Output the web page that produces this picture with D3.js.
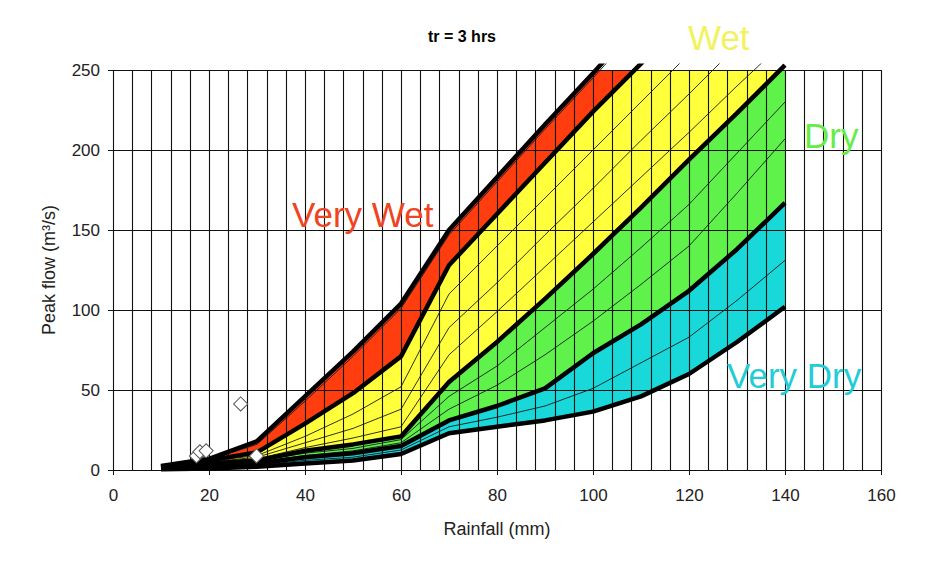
<!DOCTYPE html>
<html><head><meta charset="utf-8">
<script src="https://cdn.jsdelivr.net/npm/d3@7"></script>
<style>body{margin:0;background:#fff} svg{display:block;font-family:Arial,"Liberation Sans",sans-serif}</style>
</head><body><svg id="c" width="946" height="563"></svg>
<script>
// ---- data ----
const rainfall = [10,20,30,40,50,60,70,80,90,100,110,120,130,140];
// thick boundary curves
const veryWetTop   = [2.5,7,18,46,74,104,150,183,216,248,281,null,null,null];
const wetTop       = [2,6,11,29,48,71,128,160,192,224,254,286,null,null];
const dryTop       = [1.5,4,6,12,16,21,55,80,107,135,164,194,223,253];
const veryDryTop   = [1,3,4,8,10.5,15,31,40,51,73,91,112,138,167];
const veryDryBase  = [0.5,1,2,4,6,10,23,27,31,36.5,46,60,80,102];
// thin intermediate curves
const redThin      = [2.3,6.5,16,43,71,101,147,180,213,245,278,null,null,null];
const yellowThin1  = [1.9,5.5,9,21,35,52,110,140,170,200,230,260,null,null];
const yellowThin2  = [1.8,5,8,17,26,38,89,117,147,176,206,235,265,null];
const yellowThin3  = [1.7,4.5,7,14,20,27,72,99,127,155,183,211,240,268];
const greenThin1   = [1.4,3.8,5.5,10.5,13.5,19,46,65,89,113,139,166,198,230];
const greenThin2   = [1.2,3.5,5,9,12,17,38,53,72,93,116,140,173,207];
const cyanThin     = [0.8,2,3,6,8,12.5,27,33,40,51,67,83,106,131];
// observed events
const obsRain = [17.4,18.1,19.4,26.6,29.9];
const obsPeak = [8.8,11.4,12,41.3,8.8];
// axis ticks
const xTicks = [0,20,40,60,80,100,120,140,160];
const yTicks = [0,50,100,150,200,250];
const xGrid = d3.range(0,161,4);

const svg = d3.select("#c");
const x = d3.scaleLinear().domain([0,160]).range([113,881]);
const y = d3.scaleLinear().domain([0,250]).range([470,70]);

const defs = svg.append("defs");
defs.append("clipPath").attr("id","plot").append("rect")
  .attr("x",x(0)).attr("y",y(250)).attr("width",x(160)-x(0)).attr("height",y(0)-y(250));
defs.append("clipPath").attr("id","lines").append("rect")
  .attr("x",x(0)).attr("y",y(254)).attr("width",x(160)-x(0)).attr("height",y(0)-y(254)+10);

const pts = arr => rainfall.map((r,i)=>[r,arr[i]]).filter(d=>d[1]!==null);
const band = (upper, lower) => {
  const u = pts(upper).map(d=>[x(d[0]),y(d[1])]);
  const l = pts(lower).map(d=>[x(d[0]),y(d[1])]).reverse();
  return "M" + u.concat(l).map(p=>p.join(",")).join("L") + "Z";
};

const fills = svg.append("g").attr("clip-path","url(#plot)");
fills.append("path").attr("d",band(veryWetTop,wetTop)).attr("fill","#ff3d0f");
fills.append("path").attr("d",band(wetTop,dryTop)).attr("fill","#ffff3c");
fills.append("path").attr("d",band(dryTop,veryDryTop)).attr("fill","#5ef24b");
fills.append("path").attr("d",band(veryDryTop,veryDryBase)).attr("fill","#18d8da");

// grid
const grid = svg.append("g").attr("stroke","#111").attr("stroke-width",1.1);
grid.selectAll("line.v").data(xGrid).join("line")
  .attr("x1",d=>Math.round(x(d))+0.5).attr("x2",d=>Math.round(x(d))+0.5)
  .attr("y1",y(250)).attr("y2",y(0));
grid.selectAll("line.h").data(yTicks).join("line").attr("class","h")
  .attr("x1",x(0)).attr("x2",x(160))
  .attr("y1",d=>Math.round(y(d))+0.5).attr("y2",d=>Math.round(y(d))+0.5);

// axes
const fontSize = 17;
const ax = svg.append("g").attr("transform",`translate(${x(0)},0)`)
  .call(d3.axisLeft(y).tickValues(yTicks).tickSize(5).tickPadding(8));
const bx = svg.append("g").attr("transform",`translate(0,${y(0)})`)
  .call(d3.axisBottom(x).tickValues(xTicks).tickSize(5).tickPadding(14));
[ax,bx].forEach(g=>{
  g.select(".domain").remove();
  g.selectAll("line").attr("stroke","#111");
  g.selectAll("text").attr("font-size",fontSize).attr("fill","#222")
   .attr("font-family","Arial,'Liberation Sans',sans-serif");
});

// curves
const line = d3.line().x(d=>x(d[0])).y(d=>y(d[1]));
const lines = svg.append("g").attr("clip-path","url(#lines)").attr("fill","none");
[redThin,yellowThin1,yellowThin2,yellowThin3,greenThin1,greenThin2,cyanThin].forEach(a=>{
  lines.append("path").attr("d",line(pts(a))).attr("stroke","#1a1a1a").attr("stroke-width",0.9);
});
[veryWetTop,wetTop,dryTop,veryDryTop,veryDryBase].forEach(a=>{
  lines.append("path").attr("d",line(pts(a))).attr("stroke","#000").attr("stroke-width",4.5)
    .attr("stroke-linejoin","round");
});

// observations
svg.append("g").selectAll("path").data(obsRain.map((r,i)=>[r,obsPeak[i]])).join("path")
  .attr("d",d3.symbol(d3.symbolSquare,100)())
  .attr("transform",d=>`translate(${x(d[0])},${y(d[1])}) rotate(45)`)
  .attr("fill","#fff").attr("stroke","#555").attr("stroke-width",1);

// labels
const lab = svg.append("g").attr("font-size",35);
lab.append("text").attr("x",292).attr("y",227).attr("fill","#ee4422").text("Very Wet");
lab.append("text").attr("x",688).attr("y",50).attr("fill","#f2f25e").text("Wet");
lab.append("text").attr("x",804).attr("y",148).attr("fill","#66ec46").text("Dry");
lab.append("text").attr("x",727).attr("y",388).attr("fill","#22ccd6").text("Very Dry");

svg.append("text").attr("x",462).attr("y",42).attr("text-anchor","middle")
  .attr("font-weight","bold").attr("font-size",16).text("tr = 3 hrs");
svg.append("text").attr("transform","translate(55,270) rotate(-90)").attr("text-anchor","middle")
  .attr("font-size",18).attr("fill","#222").text("Peak flow (m³/s)");
svg.append("text").attr("x",497).attr("y",535).attr("text-anchor","middle")
  .attr("font-size",18).attr("fill","#222").text("Rainfall (mm)");
</script></body></html>
